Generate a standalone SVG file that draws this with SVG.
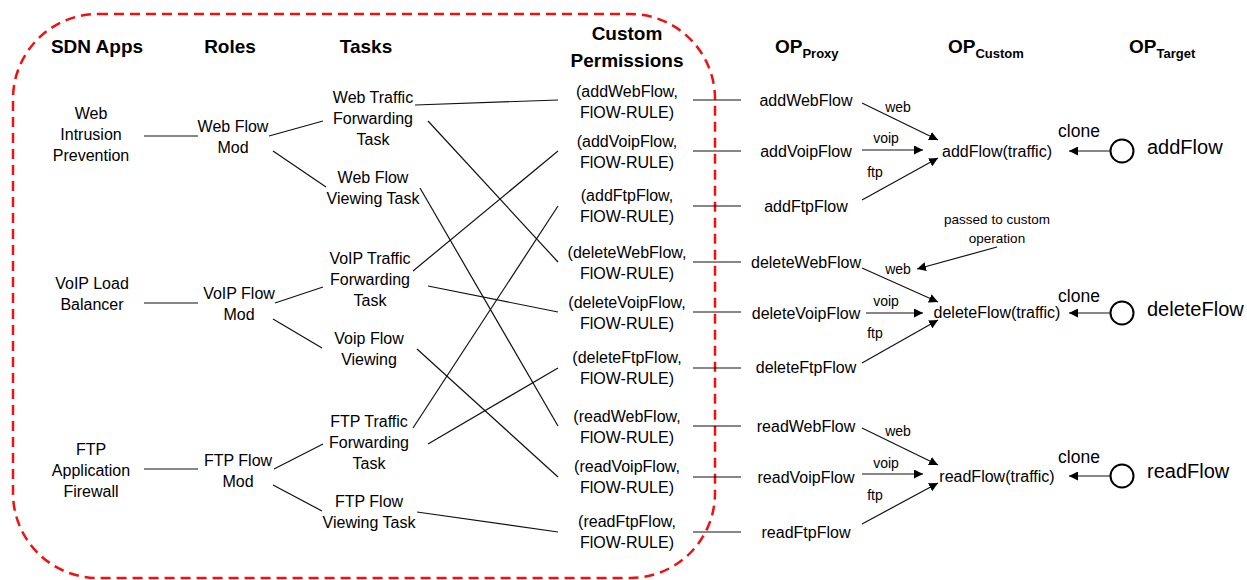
<svg xmlns="http://www.w3.org/2000/svg" width="1247" height="580" viewBox="0 0 1247 580">
<defs>
<style>
text{font-family:"Liberation Sans",Arial,sans-serif;fill:#000}
.h{font-size:19px;font-weight:bold;text-anchor:middle}
.hs{font-size:19px;font-weight:bold}
.n{font-size:16px;text-anchor:middle}
.p{font-size:16px;text-anchor:middle}
.lb{font-size:14px;text-anchor:middle}
.sm{font-size:13.5px;text-anchor:middle}
.cl{font-size:17.5px;text-anchor:middle}
.tg{font-size:20px}
.ln{stroke:#111;stroke-width:1.2;fill:none}
.ar{stroke:#111;stroke-width:1.2;fill:none;marker-end:url(#ah)}
</style>
<marker id="ah" viewBox="0 0 10 10" refX="10" refY="5" markerWidth="9" markerHeight="9" markerUnits="userSpaceOnUse" orient="auto">
<path d="M0,0 L10,5 L0,10 z" fill="#000"/>
</marker>
</defs>
<rect width="1247" height="580" fill="#fff"/>
<rect id="boundary" x="13" y="14" width="702" height="564" rx="85" ry="85" fill="none" stroke="#f01010" stroke-width="2.5" stroke-dasharray="10,6"/>

<g id="headers">
<text class="h" x="97" y="53">SDN Apps</text>
<text class="h" x="230" y="53">Roles</text>
<text class="h" x="366" y="53">Tasks</text>
<text class="h" x="627" y="40">Custom</text>
<text class="h" x="627" y="67">Permissions</text>
<text class="hs" x="775" y="53">OP<tspan font-size="13" dy="5">Proxy</tspan></text>
<text class="hs" x="948" y="53">OP<tspan font-size="13" dy="5">Custom</tspan></text>
<text class="hs" x="1129" y="53">OP<tspan font-size="13" dy="5">Target</tspan></text>
</g>

<g id="connectors">
<line class="ln" x1="144" y1="136" x2="198" y2="136"/>
<line class="ln" x1="144" y1="303" x2="198" y2="303"/>
<line class="ln" x1="144" y1="469" x2="198" y2="469"/>
<line class="ln" x1="269" y1="136" x2="323" y2="121"/>
<line class="ln" x1="273" y1="151" x2="326" y2="187"/>
<line class="ln" x1="275" y1="303" x2="323" y2="287"/>
<line class="ln" x1="273" y1="319" x2="322" y2="348"/>
<line class="ln" x1="274" y1="469" x2="323" y2="444"/>
<line class="ln" x1="273" y1="485" x2="322" y2="511"/>
<line class="ln" x1="415" y1="105" x2="558" y2="100"/>
<line class="ln" x1="428" y1="121" x2="558" y2="262"/>
<line class="ln" x1="420" y1="188" x2="558" y2="426"/>
<line class="ln" x1="413" y1="271" x2="558" y2="151"/>
<line class="ln" x1="428" y1="286" x2="558" y2="312"/>
<line class="ln" x1="417" y1="349" x2="558" y2="477"/>
<line class="ln" x1="413" y1="428" x2="558" y2="206"/>
<line class="ln" x1="428" y1="444" x2="558" y2="368"/>
<line class="ln" x1="417" y1="512" x2="558" y2="532"/>
<line class="ln" x1="693" y1="100" x2="741" y2="100"/>
<line class="ln" x1="693" y1="151" x2="741" y2="151"/>
<line class="ln" x1="693" y1="206" x2="741" y2="206"/>
<line class="ln" x1="693" y1="262" x2="741" y2="262"/>
<line class="ln" x1="693" y1="312" x2="741" y2="312"/>
<line class="ln" x1="693" y1="368" x2="741" y2="368"/>
<line class="ln" x1="693" y1="426" x2="741" y2="426"/>
<line class="ln" x1="693" y1="477" x2="741" y2="477"/>
<line class="ln" x1="693" y1="532" x2="741" y2="532"/>
<line class="ar" x1="862" y1="103" x2="938" y2="140"/>
<line class="ar" x1="862" y1="150" x2="923" y2="150"/>
<line class="ar" x1="862" y1="200" x2="938" y2="158"/>
<line class="ar" x1="862" y1="268" x2="938" y2="302"/>
<line class="ar" x1="866" y1="313" x2="923" y2="313"/>
<line class="ar" x1="862" y1="363" x2="938" y2="320"/>
<line class="ar" x1="862" y1="428" x2="938" y2="465"/>
<line class="ar" x1="862" y1="474" x2="923" y2="474"/>
<line class="ar" x1="862" y1="524" x2="938" y2="483"/>
<line class="ar" x1="997" y1="247" x2="917" y2="269"/>
<line class="ar" x1="1110" y1="151" x2="1069" y2="151"/>
<line class="ar" x1="1110" y1="313" x2="1069" y2="313"/>
<line class="ar" x1="1110" y1="476" x2="1069" y2="476"/>
<text class="lb" x="898" y="112">web</text>
<text class="lb" x="886" y="143">voip</text>
<text class="lb" x="875" y="177">ftp</text>
<text class="lb" x="898" y="274">web</text>
<text class="lb" x="886" y="306">voip</text>
<text class="lb" x="875" y="338">ftp</text>
<text class="lb" x="898" y="436">web</text>
<text class="lb" x="886" y="468">voip</text>
<text class="lb" x="875" y="500">ftp</text>
<text class="cl" x="1079" y="137">clone</text>
<text class="cl" x="1079" y="302">clone</text>
<text class="cl" x="1079" y="463">clone</text>
</g>

<g id="app-web"><text class="n" x="91" y="119">Web</text><text class="n" x="91" y="140">Intrusion</text><text class="n" x="91" y="161">Prevention</text></g>
<g id="app-voip"><text class="n" x="92" y="289">VoIP Load</text><text class="n" x="92" y="310">Balancer</text></g>
<g id="app-ftp"><text class="n" x="91" y="455">FTP</text><text class="n" x="91" y="476">Application</text><text class="n" x="91" y="497">Firewall</text></g>

<g id="role-web"><text class="n" x="233" y="132">Web Flow</text><text class="n" x="233" y="153">Mod</text></g>
<g id="role-voip"><text class="n" x="239" y="299">VoIP Flow</text><text class="n" x="239" y="320">Mod</text></g>
<g id="role-ftp"><text class="n" x="238" y="466">FTP Flow</text><text class="n" x="238" y="487">Mod</text></g>

<g id="task-web-fwd"><text class="n" x="373" y="103">Web Traffic</text><text class="n" x="373" y="124">Forwarding</text><text class="n" x="373" y="145">Task</text></g>
<g id="task-web-view"><text class="n" x="373" y="183">Web Flow</text><text class="n" x="373" y="204">Viewing Task</text></g>
<g id="task-voip-fwd"><text class="n" x="370" y="264">VoIP Traffic</text><text class="n" x="370" y="285">Forwarding</text><text class="n" x="370" y="306">Task</text></g>
<g id="task-voip-view"><text class="n" x="369" y="344">Voip Flow</text><text class="n" x="369" y="365">Viewing</text></g>
<g id="task-ftp-fwd"><text class="n" x="369" y="427">FTP Traffic</text><text class="n" x="369" y="448">Forwarding</text><text class="n" x="369" y="469">Task</text></g>
<g id="task-ftp-view"><text class="n" x="369" y="507">FTP Flow</text><text class="n" x="369" y="528">Viewing Task</text></g>

<g id="perm-addweb"><text class="p" x="627" y="97">(addWebFlow,</text><text class="p" x="627" y="118">FlOW-RULE)</text></g>
<g id="perm-addvoip"><text class="p" x="627" y="147">(addVoipFlow,</text><text class="p" x="627" y="168">FlOW-RULE)</text></g>
<g id="perm-addftp"><text class="p" x="627" y="201">(addFtpFlow,</text><text class="p" x="627" y="222">FlOW-RULE)</text></g>
<g id="perm-delweb"><text class="p" x="627" y="258">(deleteWebFlow,</text><text class="p" x="627" y="279">FlOW-RULE)</text></g>
<g id="perm-delvoip"><text class="p" x="627" y="308">(deleteVoipFlow,</text><text class="p" x="627" y="329">FlOW-RULE)</text></g>
<g id="perm-delftp"><text class="p" x="627" y="363">(deleteFtpFlow,</text><text class="p" x="627" y="384">FlOW-RULE)</text></g>
<g id="perm-readweb"><text class="p" x="627" y="422">(readWebFlow,</text><text class="p" x="627" y="443">FlOW-RULE)</text></g>
<g id="perm-readvoip"><text class="p" x="627" y="472">(readVoipFlow,</text><text class="p" x="627" y="493">FlOW-RULE)</text></g>
<g id="perm-readftp"><text class="p" x="627" y="527">(readFtpFlow,</text><text class="p" x="627" y="548">FlOW-RULE)</text></g>

<g id="proxy-addweb"><text class="p" x="806" y="106">addWebFlow</text></g>
<g id="proxy-addvoip"><text class="p" x="806" y="157">addVoipFlow</text></g>
<g id="proxy-addftp"><text class="p" x="806" y="212">addFtpFlow</text></g>
<g id="proxy-delweb"><text class="p" x="806" y="268">deleteWebFlow</text></g>
<g id="proxy-delvoip"><text class="p" x="806" y="319">deleteVoipFlow</text></g>
<g id="proxy-delftp"><text class="p" x="806" y="373">deleteFtpFlow</text></g>
<g id="proxy-readweb"><text class="p" x="806" y="432">readWebFlow</text></g>
<g id="proxy-readvoip"><text class="p" x="806" y="483">readVoipFlow</text></g>
<g id="proxy-readftp"><text class="p" x="806" y="538">readFtpFlow</text></g>

<g id="custom-add"><text class="p" x="997" y="157">addFlow(traffic)</text></g>
<g id="custom-delete"><text class="p" x="997" y="318">deleteFlow(traffic)</text></g>
<g id="custom-read"><text class="p" x="997" y="482">readFlow(traffic)</text></g>

<g id="note"><text class="sm" x="997" y="224">passed to custom</text><text class="sm" x="997" y="243">operation</text></g>

<g id="target-add"><circle cx="1122" cy="151" r="11.5" fill="none" stroke="#000" stroke-width="2"/><text class="tg" x="1147" y="154">addFlow</text></g>
<g id="target-delete"><circle cx="1122" cy="313" r="11.5" fill="none" stroke="#000" stroke-width="2"/><text class="tg" x="1147" y="316">deleteFlow</text></g>
<g id="target-read"><circle cx="1122" cy="476" r="11.5" fill="none" stroke="#000" stroke-width="2"/><text class="tg" x="1147" y="478">readFlow</text></g>
</svg>
